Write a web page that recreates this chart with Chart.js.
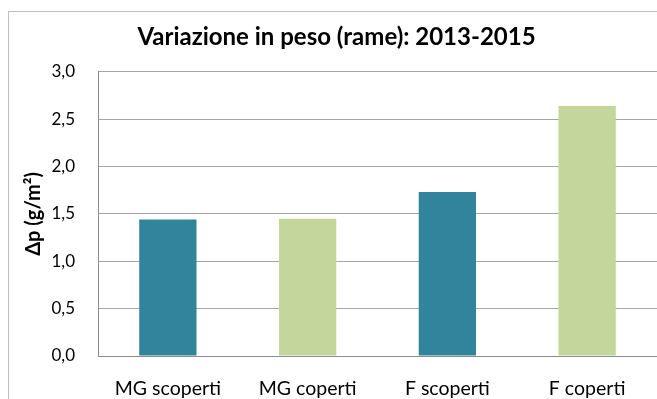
<!DOCTYPE html>
<html>
<head>
<meta charset="utf-8">
<script src="https://cdn.jsdelivr.net/npm/chart.js@4"></script>
<style>
  html, body { margin: 0; padding: 0; background: #fff; overflow: hidden; }
  #wrap { width: 657px; height: 399px; }
</style>
</head>
<body>
<div id="wrap"><canvas id="pesoChart" width="657" height="399"></canvas></div>
<script>
// weight change of copper samples, 2013-2015
const categories = ["MG scoperti", "MG coperti", "F scoperti", "F coperti"];
const deltaPeso = [1.44, 1.45, 1.73, 2.64];
const barColors = ["#31849b", "#c3d69b", "#31849b", "#c3d69b"];
const yMin = 0;
const yMax = 3;
const yStep = 0.5;

const fontFamily = "Lato, 'Open Sans', sans-serif";

// light grey frame around the whole chart
const chartFrame = {
    id: 'chartFrame',
    beforeDraw(chart) {
        let ctx = chart.ctx;
        ctx.save();
        ctx.fillStyle = '#ffffff';
        ctx.fillRect(0, 0, chart.width, chart.height);
        ctx.strokeStyle = '#bfbfbf';
        ctx.lineWidth = 1;
        ctx.strokeRect(8.5, 11.5, chart.width + 20, chart.height + 20);
        ctx.restore();
    }
};

let chartData = {
    type: 'bar',
    data: {
        labels: categories,
        datasets: [{
            label: 'Δp',
            data: deltaPeso,
            backgroundColor: barColors,
            borderWidth: 0,
            barPercentage: 0.41,
            categoryPercentage: 1
        }]
    },
    options: {
        responsive: false,
        animation: false,
        devicePixelRatio: 1,
        layout: { padding: { left: 16, right: 0, top: 0, bottom: 0 } },
        plugins: {
            legend: { display: false },
            tooltip: { enabled: false },
            title: {
                display: true,
                text: 'Variazione in peso (rame): 2013-2015',
                color: '#000',
                font: { family: fontFamily, size: 24, weight: 'bold' },
                padding: { top: 23, bottom: 20 }
            }
        },
        scales: {
            x: {
                grid: { display: false, drawTicks: false },
                border: { color: '#8c8c8c' },
                ticks: {
                    padding: 21,
                    color: '#000',
                    font: { family: fontFamily, size: 19.5 }
                },
                afterFit(scale) { scale.height = 43; }
            },
            y: {
                min: yMin,
                max: yMax,
                grid: { color: '#a6a6a6', drawTicks: false },
                border: { color: '#8c8c8c' },
                ticks: {
                    stepSize: yStep,
                    padding: 23,
                    color: '#000',
                    font: { family: fontFamily, size: 17 },
                    callback: v => v.toFixed(1).replace('.', ',')
                },
                title: {
                    display: true,
                    text: 'Δp (g/m²)',
                    color: '#000',
                    font: { family: fontFamily, size: 20, weight: 'bold' },
                    padding: { top: 6, bottom: 0 }
                },
                afterFit(scale) { scale.width = 82; }
            }
        }
    },
    plugins: [chartFrame]
};

let pesoChart = new Chart(document.getElementById("pesoChart").getContext("2d"), chartData);
</script>
</body>
</html>
